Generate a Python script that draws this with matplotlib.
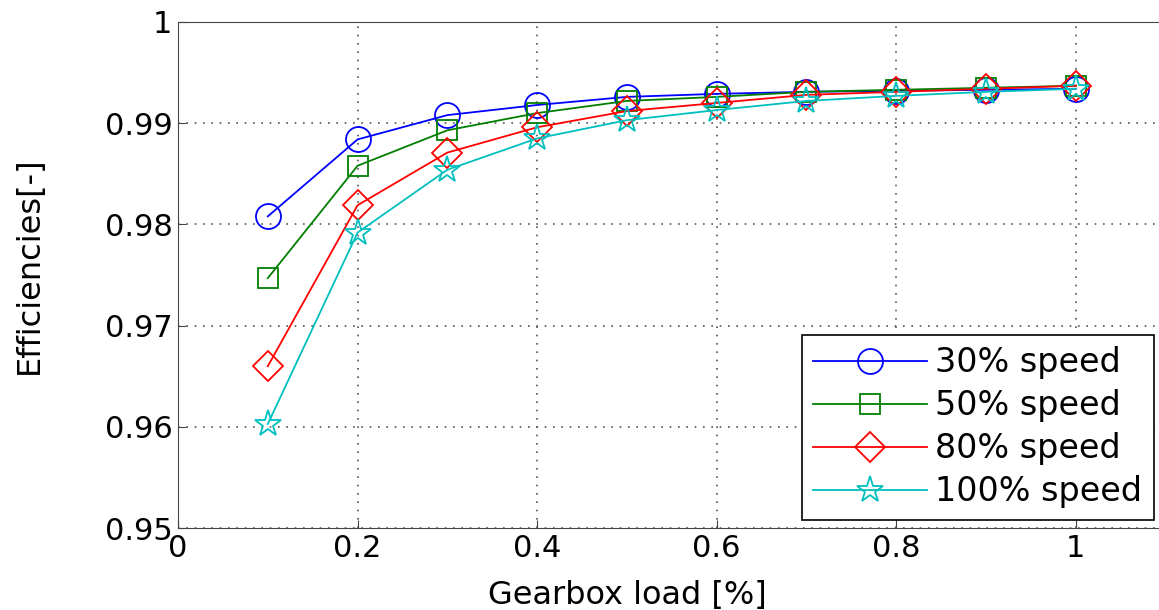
import matplotlib.pyplot as plt

load = [0.1, 0.2, 0.3, 0.4, 0.5, 0.6, 0.7, 0.8, 0.9, 1.0]
eff_30 = [0.9808, 0.9884, 0.9908, 0.9918, 0.9926, 0.9929, 0.9931, 0.9932, 0.9933, 0.9934]
eff_50 = [0.9747, 0.9858, 0.9893, 0.9910, 0.9922, 0.9926, 0.9931, 0.9933, 0.9935, 0.9937]
eff_80 = [0.9660, 0.9819, 0.9871, 0.9896, 0.9912, 0.9920, 0.9928, 0.9931, 0.9934, 0.9937]
eff_100 = [0.9603, 0.9792, 0.9854, 0.9885, 0.9903, 0.9913, 0.9922, 0.9927, 0.9931, 0.9934]

plt.rcParams['font.family'] = ['DejaVu Sans']

fig = plt.figure(figsize=(11.59, 6.10), dpi=100)
ax = fig.add_axes([0.1536, 0.134, 0.852, 0.830])

ax.plot(load, eff_30, color='#0000ff', marker='o', ms=18, mfc='none', lw=1.3, mew=1.3, label='30% speed')
ax.plot(load, eff_50, color='#007f00', marker='s', ms=14, mfc='none', lw=1.3, mew=1.3, label='50% speed')
ax.plot(load, eff_80, color='#ff0000', marker='D', ms=15, mfc='none', lw=1.3, mew=1.3, label='80% speed')
ax.plot(load, eff_100, color='#00bfbf', marker='*', ms=20, mfc='none', lw=1.3, mew=1.3, label='100% speed')

ax.set_xlim(0, 1.1)
ax.set_ylim(0.95, 1.0)
ax.set_xticks([0, 0.2, 0.4, 0.6, 0.8, 1])
ax.set_xticklabels(['0', '0.2', '0.4', '0.6', '0.8', '1'])
ax.set_yticks([0.95, 0.96, 0.97, 0.98, 0.99, 1])
ax.set_yticklabels(['0.95', '0.96', '0.97', '0.98', '0.99', '1'])
ax.tick_params(direction='in', labelsize=22, length=6, color='#444444', pad=4)
ax.grid(True, linestyle=(0, (1, 4)), color='#555555', lw=1.2)
for s in ax.spines.values():
    s.set_color('#444444')

ax.set_xlabel('Gearbox load [%]', fontsize=23)
ax.set_ylabel('Efficiencies[-]', fontsize=23)
ax.xaxis.set_label_coords(0.455, -0.103)
ax.yaxis.set_label_coords(-0.135, 0.52)

leg = ax.legend(loc='lower right', bbox_to_anchor=(0.988, 0.016), fontsize=24,
                handlelength=3.4, handletextpad=0.25, borderpad=0.35, labelspacing=0.3,
                borderaxespad=0, fancybox=False, framealpha=1, edgecolor='black')
leg.get_frame().set_linewidth(1.2)

fig.savefig('out.png', dpi=100)
